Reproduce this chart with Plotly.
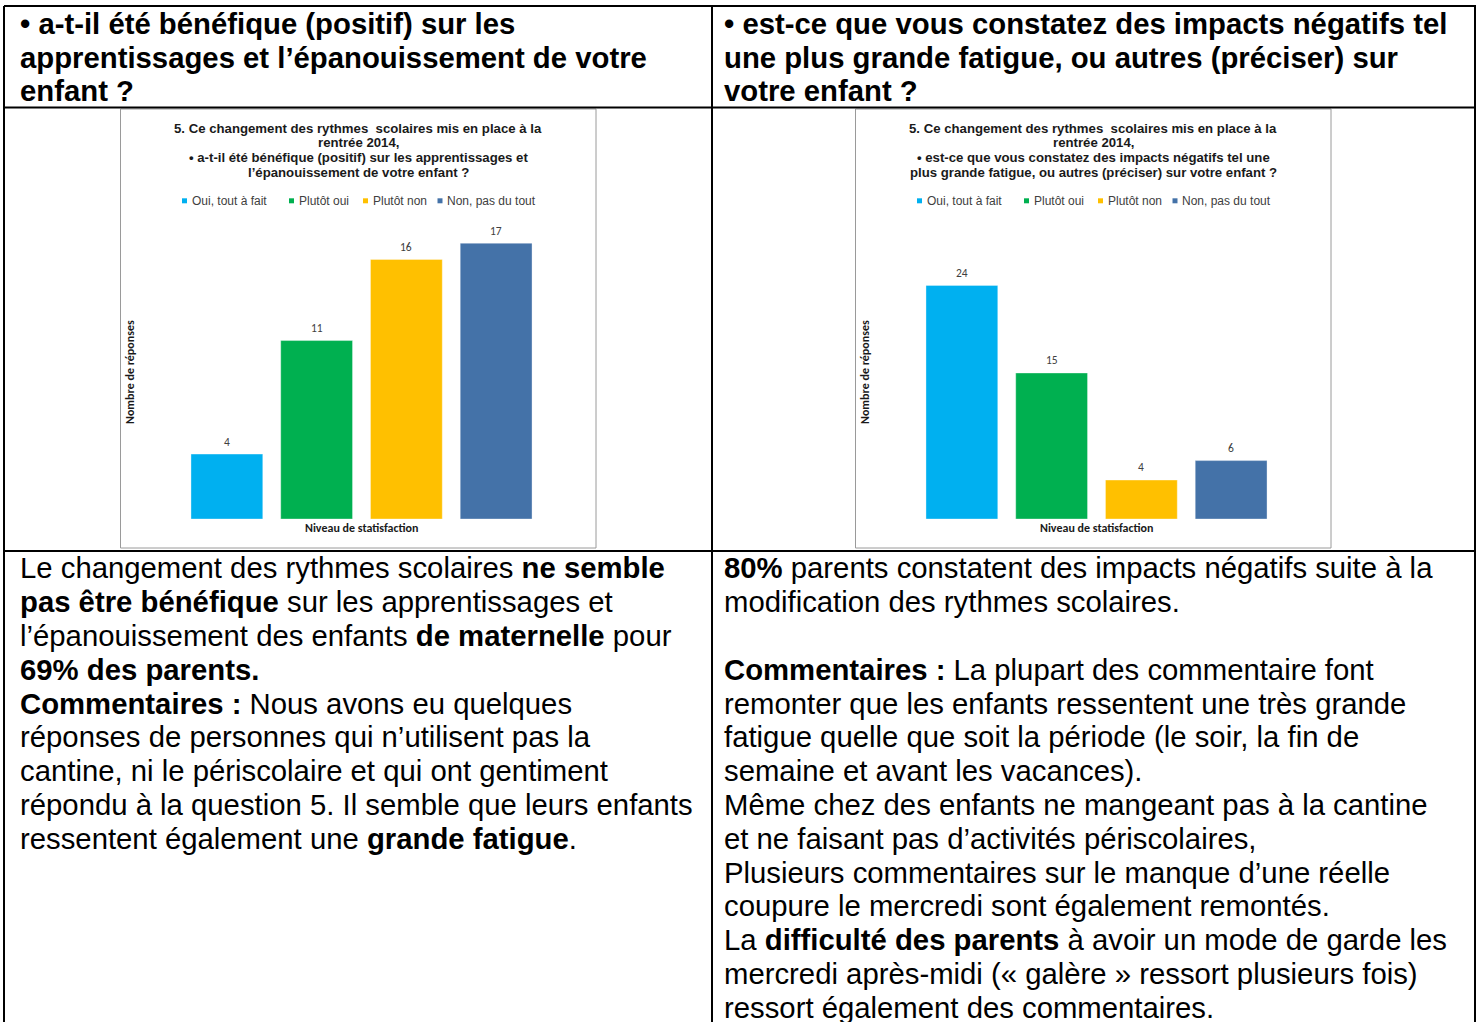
import plotly.graph_objects as go

W, H = 1480, 1022

# ---------------- data ----------------
categories = ["Oui, tout à fait", "Plutôt oui", "Plutôt non", "Non, pas du tout"]
bar_colors = ["#00B0F0", "#00B050", "#FFC000", "#4472A8"]
values_benefique = [4, 11, 16, 17]
values_negatif = [24, 15, 4, 6]
ymax_benefique = 18
ymax_negatif = 30

title_common = ["5. Ce changement des rythmes  scolaires mis en place à la", "rentrée 2014,"]
title_q1 = ["• a-t-il été bénéfique (positif) sur les apprentissages et",
            "l’épanouissement de votre enfant ?"]
title_q2 = ["• est-ce que vous constatez des impacts négatifs tel une",
            "plus grande fatigue, ou autres (préciser) sur votre enfant ?"]
y_axis_title = "Nombre de réponses"
x_axis_title = "Niveau de statisfaction"

header_left = ["• a-t-il été bénéfique (positif) sur les",
               "apprentissages et l’épanouissement de votre",
               "enfant ?"]
header_right = ["• est-ce que vous constatez des impacts négatifs tel",
                "une plus grande fatigue, ou autres (préciser) sur",
                "votre enfant ?"]
body_left = ["Le changement des rythmes scolaires <b>ne semble</b>",
             "<b>pas être bénéfique</b> sur les apprentissages et",
             "l’épanouissement des enfants <b>de maternelle</b> pour",
             "<b>69% des parents.</b>",
             "<b>Commentaires :</b> Nous avons eu quelques",
             "réponses de personnes qui n’utilisent pas la",
             "cantine, ni le périscolaire et qui ont gentiment",
             "répondu à la question 5. Il semble que leurs enfants",
             "ressentent également une <b>grande fatigue</b>."]
body_right = ["<b>80%</b> parents constatent des impacts négatifs suite à la",
              "modification des rythmes scolaires.",
              "",
              "<b>Commentaires :</b> La plupart des commentaire font",
              "remonter que les enfants ressentent une très grande",
              "fatigue quelle que soit la période (le soir, la fin de",
              "semaine et avant les vacances).",
              "Même chez des enfants ne mangeant pas à la cantine",
              "et ne faisant pas d’activités périscolaires,",
              "Plusieurs commentaires sur le manque d’une réelle",
              "coupure le mercredi sont également remontés.",
              "La <b>difficulté des parents</b> à avoir un mode de garde les",
              "mercredi après-midi (« galère » ressort plusieurs fois)",
              "ressort également des commentaires."]

# ---------------- helpers ----------------
def px(x):
    return x / W

def py(y):
    return 1 - y / H

DOC_FONT = "Liberation Sans, Arial, sans-serif"
XL_FONT = "Calibri, Carlito, Lato, sans-serif"

fig = go.Figure()
annotations = []
shapes = []

# ---------------- charts ----------------
charts = [
    dict(frame_x=120.5, values=values_benefique, ymax=ymax_benefique, q=title_q1, ax="x", ay="y"),
    dict(frame_x=855.5, values=values_negatif, ymax=ymax_negatif, q=title_q2, ax="x2", ay="y2"),
]
frame_top, frame_bottom, frame_w = 109, 548, 475.5
plot_top, plot_bottom, plot_off, plot_w = 227, 519, 61.5, 359
legend_offsets = [61.5, 168.5, 242.5, 317]

for i, c in enumerate(charts):
    fx = c["frame_x"]
    xa = "xaxis" if i == 0 else "xaxis2"
    ya = "yaxis" if i == 0 else "yaxis2"
    fig.add_trace(go.Bar(x=categories, y=c["values"],
                         marker=dict(color=bar_colors, line=dict(width=1, color="rgba(255,255,255,0.35)")),
                         xaxis=c["ax"], yaxis=c["ay"], showlegend=False, hoverinfo="x+y"))
    fig.update_layout(**{
        xa: dict(domain=[px(fx + plot_off), px(fx + plot_off + plot_w)], range=[-0.5, 3.5],
                 showticklabels=False, showgrid=False, zeroline=False, showline=False, ticks="",
                 anchor=c["ay"], fixedrange=True),
        ya: dict(domain=[py(plot_bottom), py(plot_top)], range=[0, c["ymax"]],
                 showticklabels=False, showgrid=False, zeroline=False, showline=False, ticks="",
                 anchor=c["ax"], fixedrange=True),
    })
    # data labels
    for cat, v in zip(categories, c["values"]):
        annotations.append(dict(x=cat, y=v, xref=c["ax"], yref=c["ay"], text=str(v), showarrow=False,
                                yanchor="middle", xanchor="center", yshift=12.6,
                                font=dict(family=XL_FONT, size=11.5, color="#404040")))
    # frame
    shapes.append(dict(type="rect", xref="paper", yref="paper", x0=px(fx), x1=px(fx + frame_w),
                       y0=py(frame_bottom), y1=py(frame_top), line=dict(color="#9A9A9A", width=1),
                       fillcolor="rgba(0,0,0,0)", layer="below"))
    # title
    cx = fx + frame_w / 2
    for line, yy in zip(title_common + c["q"], [128.5, 142.5, 157.5, 172]):
        annotations.append(dict(x=px(cx), y=py(yy), xref="paper", yref="paper", text="<b>%s</b>" % line,
                                showarrow=False, xanchor="center", yanchor="middle",
                                font=dict(family=DOC_FONT, size=13.2, color="#1a1a1a")))
    # legend
    for cat, col, off in zip(categories, bar_colors, legend_offsets):
        sx = fx + off
        shapes.append(dict(type="rect", xref="paper", yref="paper", x0=px(sx), x1=px(sx + 5),
                           y0=py(203.3), y1=py(198.3), line=dict(width=0), fillcolor=col))
        annotations.append(dict(x=px(sx + 7.5), y=py(200.7), xref="paper", yref="paper", text=cat,
                                showarrow=False, xanchor="left", yanchor="middle",
                                font=dict(family=DOC_FONT, size=12, color="#404040")))
    # axis titles
    annotations.append(dict(x=px(fx + 9.5), y=py(372), xref="paper", yref="paper", text="<b>%s</b>" % y_axis_title,
                            showarrow=False, textangle=-90, xanchor="center", yanchor="middle",
                            font=dict(family=XL_FONT, size=12, color="#1a1a1a")))
    annotations.append(dict(x=px(fx + 241), y=py(528), xref="paper", yref="paper", text="<b>%s</b>" % x_axis_title,
                            showarrow=False, xanchor="center", yanchor="middle",
                            font=dict(family=XL_FONT, size=12, color="#1a1a1a")))

# ---------------- document table ----------------
LINE_H = 33.8
FS = 29.3
def add_lines(lines, x, base0, bold=False):
    for k, t in enumerate(lines):
        if not t:
            continue
        baseline = base0 + k * LINE_H
        annotations.append(dict(x=px(x), y=py(baseline - 10.2), xref="paper", yref="paper",
                                text=("<b>%s</b>" % t) if bold else t, showarrow=False,
                                xanchor="left", yanchor="middle", borderpad=0,
                                font=dict(family=DOC_FONT, size=FS, color="#000000")))

add_lines(header_left, 19, 33.5, bold=True)
add_lines(header_right, 723, 33.5, bold=True)
add_lines(body_left, 19, 578)
add_lines(body_right, 723, 578)

tbl = dict(color="#000000", width=2)
for (x0, y0, x1, y1) in [(4, 6, 1476, 6), (4, 107.5, 1476, 107.5), (4, 551, 1476, 551),
                         (4, 6, 4, 1030), (712, 6, 712, 1030), (1475, 6, 1475, 1030)]:
    shapes.append(dict(type="line", xref="paper", yref="paper", x0=px(x0), y0=py(y0), x1=px(x1), y1=py(y1),
                       line=tbl))

fig.update_layout(width=W, height=H, autosize=False, margin=dict(l=0, r=0, t=0, b=0, pad=0),
                  paper_bgcolor="white", plot_bgcolor="white", bargap=0.2,
                  annotations=annotations, shapes=shapes, showlegend=False)

fig.write_html("out.html", config={"displayModeBar": False},
               post_script="document.body.style.margin='0';document.body.style.padding='0';")
